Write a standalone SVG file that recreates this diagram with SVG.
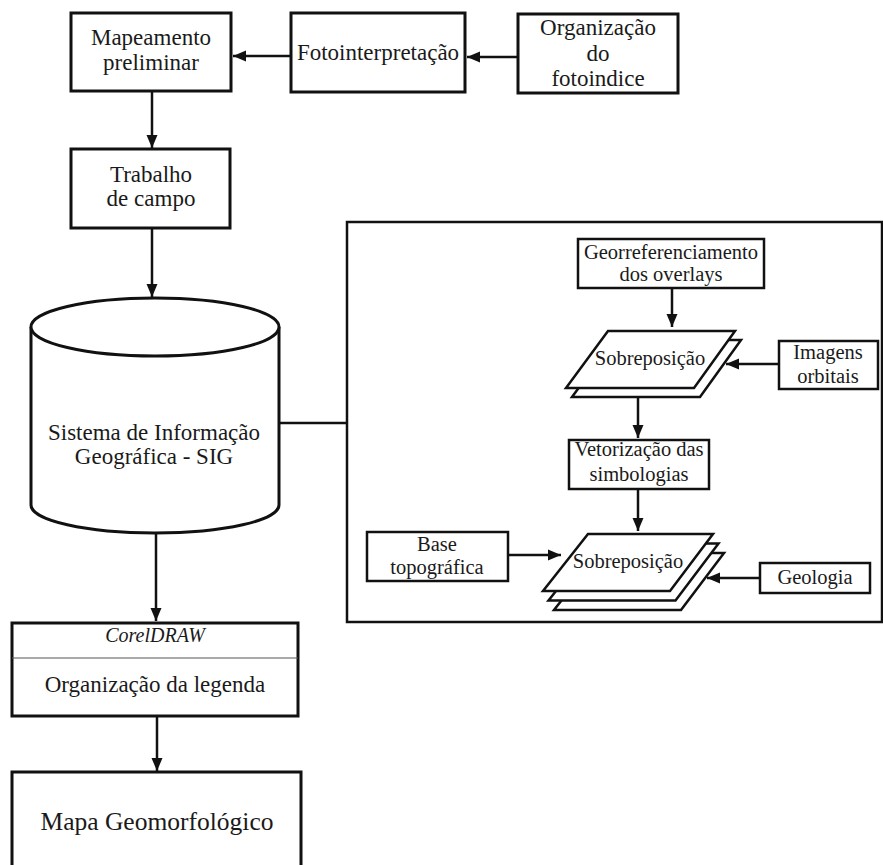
<svg xmlns="http://www.w3.org/2000/svg" width="883" height="865" viewBox="0 0 883 865">
<style>
.b{fill:#fff;stroke:#111;stroke-width:3}
.bi{fill:#fff;stroke:#111;stroke-width:2.5}
text{font-family:'Liberation Serif','Times New Roman',Times,serif;fill:#1a1a1a;text-anchor:middle}
.l{font-size:23px}
.s{font-size:20.5px}
.c{stroke:#111;stroke-width:2.5;fill:none}
</style>
<defs>
<marker id="ah" markerUnits="userSpaceOnUse" markerWidth="14" markerHeight="14" viewBox="0 0 14 14" refX="13" refY="7" orient="auto">
<path d="M0,1.5 L13,7 L0,12.5 Z" fill="#111"/>
</marker>
</defs>
<rect width="883" height="865" fill="#fff"/>

<g id="panel"><rect x="347" y="222" width="535" height="400" fill="none" stroke="#111" stroke-width="2.5"/></g>

<g id="connectors">
<line class="c" x1="291" y1="56" x2="233" y2="56" marker-end="url(#ah)"/>
<line class="c" x1="518" y1="57" x2="467" y2="57" marker-end="url(#ah)"/>
<line class="c" x1="152" y1="91" x2="152" y2="148" marker-end="url(#ah)"/>
<line class="c" x1="152" y1="228" x2="152" y2="297" marker-end="url(#ah)"/>
<line class="c" x1="278" y1="423" x2="347" y2="423"/>
<line class="c" x1="156" y1="533" x2="156" y2="621" marker-end="url(#ah)"/>
<line class="c" x1="157" y1="716" x2="157" y2="771" marker-end="url(#ah)"/>
<line class="c" x1="672" y1="288" x2="672" y2="327" marker-end="url(#ah)"/>
<line class="c" x1="779" y1="364" x2="726" y2="364" marker-end="url(#ah)"/>
<line class="c" x1="638" y1="397" x2="638" y2="438" marker-end="url(#ah)"/>
<line class="c" x1="638" y1="489" x2="638" y2="531" marker-end="url(#ah)"/>
<line class="c" x1="508" y1="555" x2="561" y2="555" marker-end="url(#ah)"/>
<line class="c" x1="760" y1="578" x2="707" y2="578" marker-end="url(#ah)"/>
</g>

<g id="mapeamento">
<rect class="b" x="71" y="13" width="160" height="78"/>
<text class="l" x="151" y="45">Mapeamento</text>
<text class="l" x="151" y="70">preliminar</text>
</g>
<g id="fotointerpretacao">
<rect class="b" x="291" y="13" width="174" height="79"/>
<text class="l" x="378" y="60">Fotointerpretação</text>
</g>
<g id="organizacao">
<rect class="b" x="518" y="14" width="160" height="79"/>
<text class="l" x="598" y="35">Organização</text>
<text class="l" x="598" y="61">do</text>
<text class="l" x="598" y="86">fotoindice</text>
</g>
<g id="trabalho">
<rect class="b" x="71" y="149" width="159" height="79"/>
<text class="l" x="151" y="182">Trabalho</text>
<text class="l" x="151" y="206">de campo</text>
</g>
<g id="sig">
<path class="b" d="M31,327 L31,505 A124,28 0 0 0 279,505 L279,327"/>
<ellipse class="b" cx="155" cy="327" rx="124" ry="29"/>
<text class="l" x="154" y="440">Sistema de Informação</text>
<text class="l" x="154" y="464">Geográfica - SIG</text>
</g>
<g id="coreldraw">
<rect class="b" x="12" y="623" width="286" height="93"/>
<line x1="12" y1="658" x2="298" y2="658" stroke="#555" stroke-width="1.2"/>
<text x="155" y="642" font-size="20" font-style="italic">CorelDRAW</text>
<text class="l" x="155" y="692">Organização da legenda</text>
</g>
<g id="mapa">
<rect class="b" x="12" y="772" width="289" height="100"/>
<text x="157" y="830" font-size="25.5">Mapa Geomorfológico</text>
</g>

<g id="georref">
<rect class="bi" x="578" y="239" width="186" height="49"/>
<text class="s" x="671" y="259">Georreferenciamento</text>
<text class="s" x="671" y="281">dos overlays</text>
</g>
<g id="sobreposicao1">
<polygon class="bi" points="614,340 741,340 700,397 572,397"/>
<polygon class="bi" points="608,331 735,331 694,388 566,388"/>
<text class="s" x="650" y="365">Sobreposição</text>
</g>
<g id="imagens">
<rect class="bi" x="779" y="341" width="99" height="48"/>
<text class="s" x="828" y="359">Imagens</text>
<text class="s" x="828" y="383">orbitais</text>
</g>
<g id="vetorizacao">
<rect class="bi" x="569" y="440" width="140" height="49"/>
<text class="s" x="639" y="456">Vetorização das</text>
<text class="s" x="639" y="481">simbologias</text>
</g>
<g id="sobreposicao2">
<polygon class="bi" points="599,553 724,553 681,610 554,610"/>
<polygon class="bi" points="593.5,543.5 718.5,543.5 675.5,600.5 548.5,600.5"/>
<polygon class="bi" points="588,534 713,534 670,591 543,591"/>
<text class="s" x="628" y="568">Sobreposição</text>
</g>
<g id="base">
<rect class="bi" x="367" y="532" width="141" height="49"/>
<text class="s" x="437" y="551">Base</text>
<text class="s" x="437" y="574">topográfica</text>
</g>
<g id="geologia">
<rect class="bi" x="760" y="563" width="110" height="30"/>
<text class="s" x="815" y="584">Geologia</text>
</g>
</svg>
